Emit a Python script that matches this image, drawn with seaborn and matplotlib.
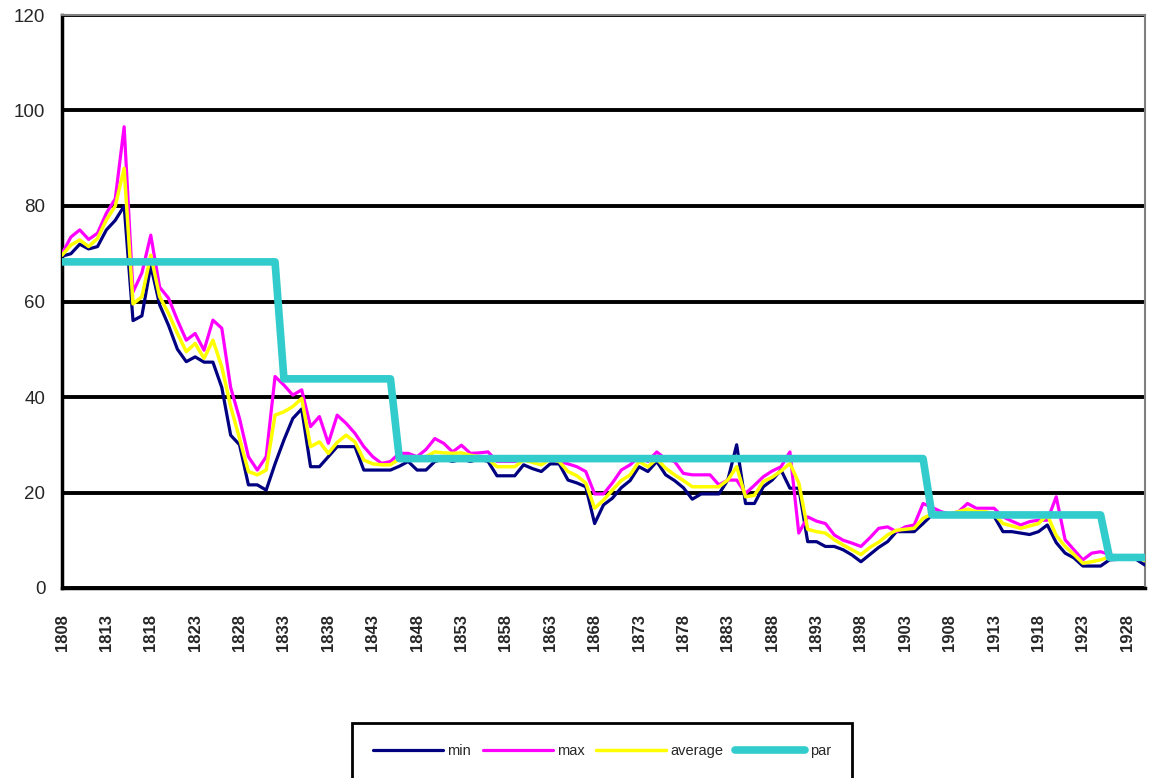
import numpy as np
import pandas as pd
import matplotlib
matplotlib.use("Agg")
import matplotlib.pyplot as plt
from matplotlib.ticker import MultipleLocator
import seaborn as sns

# ==============================
# DATA
# ==============================

years = list(range(1808, 1931))

min_vals = [
    69.5, 70, 72, 71, 71.5, 75, 77, 80, 56, 57,
    67.5, 59.3, 55, 50, 47.4, 48.4, 47.3, 47.3, 42, 32,
    30, 21.6, 21.6, 20.5, 26, 31, 35.5, 37.5, 25.4, 25.4,
    27.5, 29.6, 29.6, 29.6, 24.7, 24.7, 24.7, 24.7, 25.5, 26.5,
    24.7, 24.7, 26.5, 27, 26.5, 27, 26.5, 27, 26.5, 23.5,
    23.5, 23.5, 25.8, 25, 24.4, 26, 26, 22.6, 22, 21.2,
    13.5, 17.4, 18.8, 21, 22.5, 25.4, 24.4, 26.5, 23.7, 22.5,
    21, 18.6, 19.7, 19.7, 19.7, 22.6, 30, 17.7, 17.7, 21.2,
    22.6, 24.7, 20.9, 20.9, 9.7, 9.7, 8.7, 8.7, 8, 6.9,
    5.5, 7, 8.5, 9.7, 11.8, 11.8, 11.8, 13.5, 15.3, 15,
    15, 15.5, 15, 15, 15.5, 15, 11.8, 11.8, 11.5, 11.2,
    11.8, 13.2, 9.5, 7.3, 6.3, 4.6, 4.6, 4.6, 5.9, 6,
    6, 6, 4.8,
]

max_vals = [
    70, 73.5, 75, 73, 74.3, 78.5, 81.5, 96.6, 62, 66,
    73.9, 63, 60.7, 56.1, 51.9, 53.3, 49.8, 56.1, 54.4, 42,
    35.5, 27.5, 24.7, 27.5, 44.3, 42.5, 40.4, 41.5, 33.8, 35.9,
    30.3, 36.2, 34.5, 32.4, 29.6, 27.5, 26.1, 26.5, 28.2, 28.2,
    27.5, 29, 31.3, 30.3, 28.5, 29.9, 28.2, 28.3, 28.5, 26.5,
    26.5, 26.5, 27, 26.5, 27, 27, 26.5, 26, 25.4, 24.4,
    19.7, 19.7, 22, 24.7, 25.8, 27.5, 26.5, 28.5, 27, 26.5,
    24, 23.7, 23.7, 23.7, 21.6, 22.6, 22.6, 19.8, 21.5, 23.3,
    24.5, 25.4, 28.5, 11.5, 14.9, 14, 13.5, 11.1, 10, 9.4,
    8.7, 10.5, 12.5, 12.8, 11.8, 12.8, 13.2, 17.7, 16.9, 16,
    15.5, 16, 17.7, 16.7, 16.7, 16.7, 14.9, 14, 13.2, 13.9,
    14.2, 14.2, 19.1, 10.1, 8, 5.9, 7.3, 7.6, 7, 6.5,
    6.5, 6.5, 6,
]

avg_vals = [
    69.7, 71.8, 72.9, 71.5, 73.2, 77.1, 80, 87.9, 59.5, 61,
    69.7, 61, 57.5, 53.3, 49.5, 51.2, 48.1, 51.9, 46.3, 38,
    31.3, 24.4, 23.7, 24.7, 36.2, 36.9, 38, 39.7, 29.6, 30.6,
    28.2, 30.5, 32, 30.6, 26.8, 26, 25.8, 25.8, 27, 27.5,
    27.2, 27.5, 28.5, 28.3, 28.2, 28.3, 27.8, 27.5, 27, 25.4,
    25.4, 25.4, 26.8, 26.3, 25.8, 27, 26.5, 24.4, 23.5, 22,
    16.7, 18.4, 20.5, 22.5, 23.7, 26.5, 25.4, 27, 25.1, 23.7,
    22.5, 21.2, 21.2, 21.2, 21.2, 22.6, 25.4, 19.1, 19.4, 22.3,
    23.2, 24.5, 26.1, 22, 12.3, 11.8, 11.5, 10.1, 9, 8,
    7, 8.5, 9.6, 11.1, 12.1, 12.3, 12.5, 14.6, 15.5, 15.5,
    15.5, 16, 16.5, 16, 16, 15.5, 13.5, 13, 12.5, 13,
    13.5, 15.3, 11, 8.7, 7, 5.2, 5.5, 5.9, 6.5, 6.3,
    6.3, 6.3, 5.8,
]

par_vals = [
    68.3, 68.3, 68.3, 68.3, 68.3, 68.3, 68.3, 68.3, 68.3, 68.3,
    68.3, 68.3, 68.3, 68.3, 68.3, 68.3, 68.3, 68.3, 68.3, 68.3,
    68.3, 68.3, 68.3, 68.3, 68.3, 43.8, 43.8, 43.8, 43.8, 43.8,
    43.8, 43.8, 43.8, 43.8, 43.8, 43.8, 43.8, 43.8, 27.1, 27.1,
    27.1, 27.1, 27.1, 27.1, 27.1, 27.1, 27.1, 27.1, 27.1, 27.1,
    27.1, 27.1, 27.1, 27.1, 27.1, 27.1, 27.1, 27.1, 27.1, 27.1,
    27.1, 27.1, 27.1, 27.1, 27.1, 27.1, 27.1, 27.1, 27.1, 27.1,
    27.1, 27.1, 27.1, 27.1, 27.1, 27.1, 27.1, 27.1, 27.1, 27.1,
    27.1, 27.1, 27.1, 27.1, 27.1, 27.1, 27.1, 27.1, 27.1, 27.1,
    27.1, 27.1, 27.1, 27.1, 27.1, 27.1, 27.1, 27.1, 15.3, 15.3,
    15.3, 15.3, 15.3, 15.3, 15.3, 15.3, 15.3, 15.3, 15.3, 15.3,
    15.3, 15.3, 15.3, 15.3, 15.3, 15.3, 15.3, 15.3, 6.4, 6.4,
    6.4, 6.4, 6.4,
]

series_names = ["min", "max", "average", "par"]
series_colors = ["#000080", "#FF00FF", "#FFFF00", "#33CCCC"]
series_widths = [2.3, 2.3, 2.5, 5.5]

# ==============================
# STYLE
# ==============================

sns.set_style("white")
plt.rcParams["font.family"] = ["Liberation Sans", "DejaVu Sans"]
narrow = ["Liberation Sans Narrow", "Liberation Sans", "DejaVu Sans"]

fig = plt.figure(figsize=(11.53, 7.78), dpi=100)
ax = fig.add_axes([62 / 1153, 1 - 588 / 778, (1145 - 62) / 1153, (588 - 15) / 778])

# ==============================
# LINES
# ==============================

idx = np.arange(len(years))
data = pd.DataFrame({
    "idx": idx,
    "min": min_vals,
    "max": max_vals,
    "average": avg_vals,
    "par": par_vals,
})

for name, color, lw in zip(series_names, series_colors, series_widths):
    sns.lineplot(data=data, x="idx", y=name, color=color, linewidth=lw,
                 ax=ax, label=name, zorder=3)

# ==============================
# AXES
# ==============================

ax.set_xlim(0, len(years) - 1)
ax.set_ylim(0, 120)
ax.set_xlabel("")
ax.set_ylabel("")

ax.set_yticks([0, 20, 40, 60, 80, 100, 120])
ax.yaxis.grid(True, color="black", linewidth=2.8, zorder=1)
ax.set_axisbelow(True)
ax.tick_params(axis="y", direction="out", length=6, width=2.5,
               labelsize=13.5, pad=6, color="black")

label_pos = idx[::5]
ax.set_xticks(label_pos)
ax.set_xticklabels([str(years[i]) for i in label_pos], rotation=90,
                   fontsize=12, fontweight="bold", family=narrow)
ax.xaxis.set_minor_locator(MultipleLocator(1))
ax.tick_params(axis="x", which="both", direction="out", length=5, width=1.8,
               pad=14, color="black")

for side in ["left", "bottom"]:
    ax.spines[side].set_color("black")
    ax.spines[side].set_linewidth(2.5)
for side in ["top", "right"]:
    ax.spines[side].set_color("#808080")
    ax.spines[side].set_linewidth(1.5)

# ==============================
# LEGEND
# ==============================

leg = ax.legend(loc="center", bbox_to_anchor=(0.522, 0.035),
                bbox_transform=fig.transFigure, ncol=4, frameon=True,
                fancybox=False, edgecolor="black", framealpha=1,
                handlelength=4.8, handletextpad=0.3, columnspacing=0.8,
                borderpad=1.45, prop={"family": narrow, "size": 10.5})
leg.get_frame().set_linewidth(2)

fig.savefig("out.png", dpi=100)
